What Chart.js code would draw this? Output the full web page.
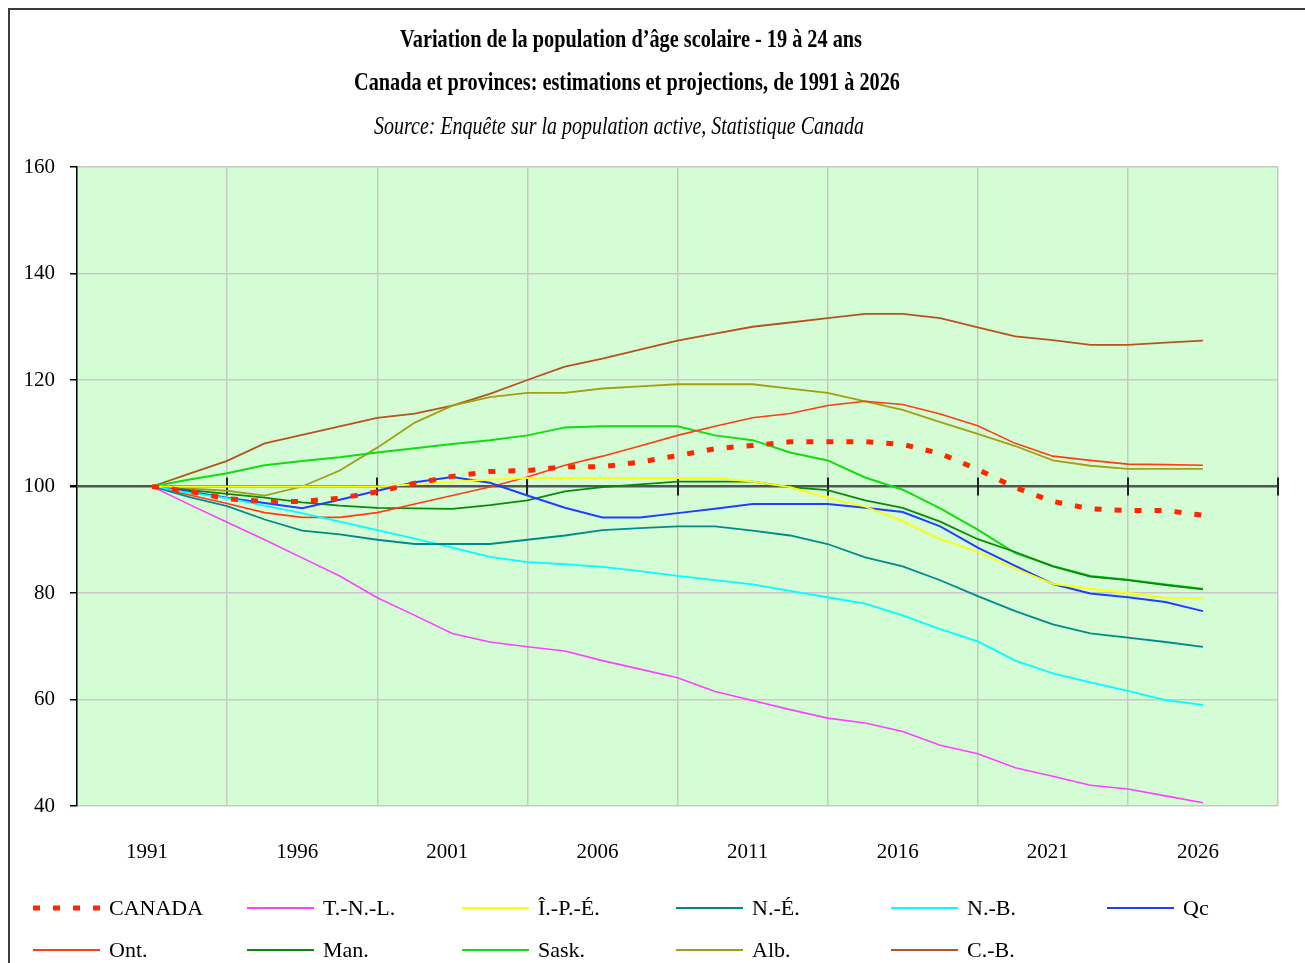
<!DOCTYPE html>
<html><head><meta charset="utf-8">
<script src="https://cdn.jsdelivr.net/npm/chart.js@4"></script>
<style>html,body{margin:0;padding:0;background:#fff;overflow:hidden}canvas{display:block}</style>
</head><body>
<canvas id="c" width="1305" height="963"></canvas>
<script>
// x labels (one every 4 data periods)
const tickLabels = ['1991','1996','2001','2006','2011','2016','2021','2026'];
const seriesNames = ['CANADA','T.-N.-L.','Î.-P.-É.','N.-É.','N.-B.','Qc','Ont.','Man.','Sask.','Alb.','C.-B.'];
const titleLines = [
  'Variation de la population d’âge scolaire - 19 à 24 ans',
  'Canada et provinces: estimations et projections, de 1991 à 2026',
  'Source: Enquête sur la population active, Statistique Canada'
];
const canada = [100,99.1,97.7,97.2,97.2,97.8,99.0,100.6,101.9,102.8,103.0,103.7,103.7,104.6,105.8,107.1,107.7,108.4,108.4,108.4,107.9,106.2,103.2,99.8,97.2,95.8,95.5,95.5,94.6];
const tnl    = [100,96.6,93.3,90.0,86.6,83.2,79.1,75.8,72.4,70.8,69.9,69.1,67.3,65.7,64.1,61.5,59.8,58.1,56.5,55.6,54.0,51.4,49.8,47.2,45.6,43.9,43.2,41.9,40.6];
const ipe    = [100,100,100,100,100,100,100,100.4,100.9,101.3,101.6,101.6,101.6,101.6,101.6,101.6,100.9,99.9,97.9,96.2,93.5,90.1,87.7,84.6,81.7,80.8,80.0,79.1,79.1];
const ne     = [100,98.0,96.3,93.8,91.7,91.0,90.0,89.2,89.2,89.2,90.0,90.8,91.8,92.2,92.5,92.5,91.7,90.8,89.2,86.7,85.0,82.4,79.4,76.6,74.1,72.4,71.6,70.8,69.9];
const nb     = [100,98.8,97.8,96.4,95.0,93.4,91.8,90.2,88.5,86.8,85.8,85.4,84.9,84.1,83.2,82.4,81.6,80.4,79.2,78.0,75.8,73.2,70.9,67.3,64.9,63.2,61.6,59.9,59.0];
const qc     = [100,99.0,97.9,96.9,95.9,97.5,99.2,100.8,101.8,100.7,98.3,96.0,94.2,94.2,95.0,95.8,96.7,96.7,96.7,96.0,95.2,92.5,88.5,85.1,81.7,79.9,79.2,78.3,76.6];
const ont    = [100,98.4,96.8,95.1,94.2,94.2,95.1,96.7,98.3,99.9,101.8,104.0,105.7,107.6,109.6,111.3,112.9,113.7,115.2,116.0,115.4,113.6,111.4,108.1,105.7,104.9,104.2,104.1,104.0];
const man    = [100,99.3,98.6,97.9,97.0,96.4,96.0,95.9,95.8,96.5,97.4,99.1,99.9,100.4,100.9,100.9,100.9,99.9,99.3,97.4,96.0,93.4,90.1,87.7,85.0,83.1,82.4,81.5,80.7];
const sask   = [100,101.3,102.5,104.0,104.8,105.5,106.4,107.2,108.0,108.7,109.6,111.1,111.3,111.3,111.3,109.6,108.7,106.4,104.9,101.7,99.4,95.9,91.9,87.5,85.1,83.2,82.5,81.6,80.8];
const alb    = [100,99.6,99.2,98.3,100.0,103.0,107.3,112.0,115.2,116.8,117.6,117.6,118.4,118.8,119.2,119.2,119.2,118.4,117.6,116.0,114.4,112.1,109.9,107.6,104.9,103.9,103.3,103.3,103.3];
const cb     = [100,102.4,104.8,108.1,109.7,111.3,112.9,113.7,115.2,117.4,120.0,122.5,124.0,125.7,127.4,128.7,130.0,130.8,131.6,132.4,132.4,131.6,129.9,128.2,127.5,126.6,126.6,127.0,127.4];

const seriesValues = [canada,tnl,ipe,ne,nb,qc,ont,man,sask,alb,cb];
const seriesColors = ['#ff2600','#ff40ff','#ffff00','#008b8b','#00ffff','#1f3fff','#ff3c14','#0a8a0a','#11dd11','#a0a015','#b5541c'];
const seriesWidths = [5,1.6,1.8,1.8,1.8,2,1.6,1.8,2,1.8,1.8];

const datasets = seriesValues.map((vals, s) => ({
  label: seriesNames[s],
  data: vals.map((v, i) => ({x: i, y: v})),
  borderColor: seriesColors[s],
  backgroundColor: seriesColors[s],
  borderWidth: seriesWidths[s],
  borderDash: s === 0 ? [7, 13] : [],
  borderCapStyle: 'butt',
  pointRadius: 0,
  tension: 0,
  fill: false,
  xAxisID: 'x',
  yAxisID: 'y'
}));

const gridValues = [-2,2,6,10,14,18,22,26,30];

const decorPlugin = {
  id: 'decor',
  beforeDraw(chart) {
    const {ctx, chartArea: a} = chart;
    ctx.save();
    ctx.fillStyle = '#d5fdd5';
    ctx.fillRect(a.left, a.top, a.right - a.left, a.bottom - a.top);
    ctx.restore();
  },
  beforeDatasetsDraw(chart) {
    const {ctx, scales} = chart;
    const y0 = scales.y.getPixelForValue(100);
    ctx.save();
    ctx.strokeStyle = '#222';
    ctx.lineWidth = 2;
    gridValues.slice(1).forEach(v => {
      const x = Math.round(scales.x.getPixelForValue(v));
      ctx.beginPath(); ctx.moveTo(x, y0 - 9); ctx.lineTo(x, y0 + 9); ctx.stroke();
    });
    ctx.restore();
  },
  afterDraw(chart) {
    const ctx = chart.ctx;
    ctx.save();
    // outer frame
    ctx.strokeStyle = '#3c3c3c';
    ctx.lineWidth = 2;
    ctx.beginPath(); ctx.moveTo(9, 963); ctx.lineTo(9, 9); ctx.lineTo(1305, 9); ctx.stroke();
    // titles
    const tl = [
      {font: 'bold 26px "Liberation Serif"', cx: 631, cy: 40, w: 462},
      {font: 'bold 26px "Liberation Serif"', cx: 627, cy: 83, w: 546},
      {font: 'italic 26px "Liberation Serif"', cx: 619, cy: 127, w: 490}
    ];
    ctx.fillStyle = '#000';
    ctx.textAlign = 'center';
    ctx.textBaseline = 'middle';
    tl.forEach((t, k) => {
      ctx.font = t.font;
      const m = ctx.measureText(titleLines[k]).width;
      ctx.save();
      ctx.translate(t.cx, t.cy);
      ctx.scale(t.w / m, 1);
      ctx.fillText(titleLines[k], 0, 0);
      ctx.restore();
    });
    // legend
    const cols = [33, 247, 462, 676, 891, 1107];
    const rows = [908, 950];
    ctx.textAlign = 'left';
    ctx.font = '22px "Liberation Serif"';
    chart.data.datasets.forEach((ds, s) => {
      const col = s < 6 ? s : s - 6;
      const row = s < 6 ? 0 : 1;
      const x = cols[col], y = rows[row];
      ctx.save();
      ctx.strokeStyle = ds.borderColor;
      ctx.lineWidth = s === 0 ? 5 : 2.2;
      ctx.lineCap = 'butt';
      ctx.setLineDash(s === 0 ? [7, 13] : []);
      ctx.beginPath(); ctx.moveTo(x, y); ctx.lineTo(x + 67, y); ctx.stroke();
      ctx.restore();
      ctx.fillStyle = '#000';
      ctx.fillText(ds.label, x + 76, y + 1);
    });
    ctx.restore();
  }
};

new Chart(document.getElementById('c'), {
  type: 'line',
  data: {datasets},
  options: {
    responsive: false,
    animation: false,
    devicePixelRatio: 1,
    layout: {padding: {top: 167, right: 27, bottom: 97, left: 0}},
    plugins: {legend: {display: false}, title: {display: false}, tooltip: {enabled: false}},
    scales: {
      x: {
        type: 'linear', min: -2, max: 30, position: 'bottom',
        afterBuildTicks: s => { s.ticks = gridValues.map(v => ({value: v})); },
        grid: {color: '#c8c8c8', lineWidth: 1.5, drawTicks: false},
        border: {display: false},
        ticks: {display: false},
        afterFit: s => { s.height = 0; }
      },
      x2: {
        type: 'linear', min: -2, max: 30, position: 'bottom',
        afterBuildTicks: s => { s.ticks = tickLabels.map((_, k) => ({value: k * 4})); },
        grid: {display: false, drawTicks: false},
        border: {display: false},
        ticks: {
          autoSkip: false, maxRotation: 0, padding: 34, labelOffset: -5,
          color: '#000', font: {family: 'Liberation Serif', size: 21},
          callback: (v, i) => tickLabels[i]
        },
        afterFit: s => { s.height = 60; }
      },
      y: {
        min: 40, max: 160,
        ticks: {stepSize: 20, color: '#000', padding: 15, font: {family: 'Liberation Serif', size: 21}},
        grid: {
          color: c => (c.tick && c.tick.value === 100) ? '#555' : '#c8c8c8',
          lineWidth: c => (c.tick && c.tick.value === 100) ? 2.5 : 1.5,
          tickColor: '#000', tickLength: 7
        },
        border: {display: true, color: '#000', width: 1.5},
        afterFit: s => { s.width = 77; }
      }
    }
  },
  plugins: [decorPlugin]
});
</script>
</body></html>
